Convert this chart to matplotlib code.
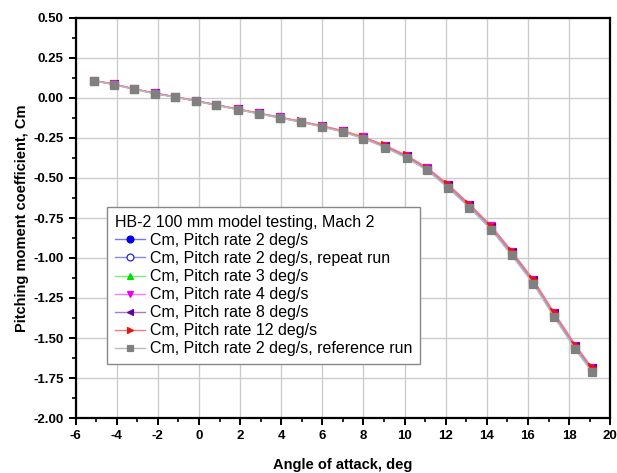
import matplotlib
matplotlib.use("Agg")
import matplotlib.pyplot as plt
from matplotlib.ticker import MultipleLocator

plt.rcParams['font.family'] = ['Liberation Sans', 'DejaVu Sans']
plt.rcParams['axes.unicode_minus'] = False

alpha = [-5.1, -4.15, -3.15, -2.15, -1.15, -0.15, 0.85, 1.9, 2.9, 3.95, 4.95, 6.0, 7.0,
         8.0, 9.05, 10.1, 11.1, 12.1, 13.15, 14.2, 15.2, 16.25, 17.25, 18.3, 19.1]

cm_2 = [0.108, 0.086, 0.056, 0.029, 0.007, -0.018, -0.044, -0.071, -0.097, -0.123, -0.149, -0.178, -0.210,
        -0.250, -0.305, -0.370, -0.447, -0.552, -0.676, -0.812, -0.972, -1.148, -1.352, -1.557, -1.695]
cm_2r = [0.108, 0.085, 0.055, 0.028, 0.006, -0.019, -0.045, -0.072, -0.098, -0.124, -0.150, -0.179, -0.211,
         -0.252, -0.307, -0.372, -0.449, -0.555, -0.680, -0.815, -0.975, -1.152, -1.357, -1.560, -1.700]
cm_3 = [0.109, 0.086, 0.056, 0.029, 0.007, -0.018, -0.044, -0.071, -0.096, -0.122, -0.148, -0.177, -0.208,
        -0.248, -0.302, -0.366, -0.443, -0.548, -0.672, -0.807, -0.966, -1.142, -1.346, -1.550, -1.690]
cm_4 = [0.109, 0.087, 0.057, 0.030, 0.008, -0.017, -0.043, -0.070, -0.096, -0.121, -0.147, -0.176, -0.207,
        -0.246, -0.300, -0.364, -0.440, -0.545, -0.668, -0.803, -0.962, -1.139, -1.343, -1.548, -1.688]
cm_8 = [0.108, 0.086, 0.056, 0.029, 0.007, -0.018, -0.044, -0.070, -0.096, -0.122, -0.148, -0.177, -0.208,
        -0.247, -0.301, -0.365, -0.441, -0.546, -0.670, -0.805, -0.964, -1.140, -1.344, -1.549, -1.689]
cm_12 = [0.109, 0.087, 0.057, 0.030, 0.008, -0.017, -0.042, -0.069, -0.094, -0.120, -0.145, -0.174, -0.204,
         -0.243, -0.296, -0.359, -0.435, -0.538, -0.662, -0.797, -0.955, -1.133, -1.337, -1.543, -1.683]
cm_ref = [0.107, 0.084, 0.054, 0.027, 0.005, -0.020, -0.046, -0.073, -0.099, -0.125, -0.151, -0.181, -0.213,
          -0.254, -0.310, -0.376, -0.453, -0.560, -0.686, -0.822, -0.983, -1.160, -1.366, -1.570, -1.712]

labels = ["Cm, Pitch rate 2 deg/s",
          "Cm, Pitch rate 2 deg/s, repeat run",
          "Cm, Pitch rate 3 deg/s",
          "Cm, Pitch rate 4 deg/s",
          "Cm, Pitch rate 8 deg/s",
          "Cm, Pitch rate 12 deg/s",
          "Cm, Pitch rate 2 deg/s, reference run"]
legend_title = "HB-2 100 mm model testing, Mach 2"

series = [cm_2, cm_2r, cm_3, cm_4, cm_8, cm_12, cm_ref]
markers = ['o', 'o', '^', 'v', '<', '>', 's']
mcolors = ['#0000ee', '#2222dd', '#00dd00', '#ee00ee', '#660099', '#ee1111', '#808080']
lcolors = ['#7777ff', '#8888ee', '#77ee77', '#ff77ff', '#aa77cc', '#ff7777', '#bbbbbb']
filled = [True, False, True, True, True, True, True]

fig = plt.figure(figsize=(6.17, 4.73), dpi=100)
ax = fig.add_axes([75.6/617, 1-418/473, 534.6/617, 400/473])

for y, m, mc, lc, f, lab in zip(series, markers, mcolors, lcolors, filled, labels):
    ax.plot(alpha, y, color=lc, linewidth=1.0, marker=m, markersize=5.5,
            markerfacecolor=mc if f else 'white', markeredgecolor=mc,
            markeredgewidth=0.9, label=lab)

ax.set_xlim(-6, 20)
ax.set_ylim(-2.0, 0.5)
ax.xaxis.set_major_locator(MultipleLocator(2))
ax.xaxis.set_minor_locator(MultipleLocator(1))
ax.yaxis.set_major_locator(MultipleLocator(0.25))
ax.yaxis.set_minor_locator(MultipleLocator(0.125))
ax.yaxis.set_major_formatter(matplotlib.ticker.FormatStrFormatter('%.2f'))
ax.grid(True, which='major', color='#cccccc', linewidth=1.0)
ax.set_axisbelow(True)
for s in ax.spines.values():
    s.set_linewidth(1.6)
ax.tick_params(which='major', direction='out', length=5, width=1.4, labelsize=9.5)
ax.tick_params(which='minor', direction='out', length=3, width=1.2)
ax.tick_params(top=False, right=False, which='both')
for t in ax.get_xticklabels() + ax.get_yticklabels():
    t.set_fontweight('bold')

ax.set_xlabel("Angle of attack, deg", fontsize=10.5, fontweight='bold', labelpad=12)
ax.set_ylabel("Pitching moment coefficient, Cm", fontsize=10.5, fontweight='bold', labelpad=3)

leg = ax.legend(title=legend_title, loc='upper left', bbox_to_anchor=(0.059, 0.5275),
                borderaxespad=0, fontsize=11.5, title_fontsize=11.5, fancybox=False,
                edgecolor='#888888', framealpha=1, handlelength=1.9, handletextpad=0.28,
                labelspacing=0.19, borderpad=0.5, alignment='left', markerscale=0.9)
leg.get_frame().set_linewidth(1.0)

fig.savefig("out.png", dpi=100)
